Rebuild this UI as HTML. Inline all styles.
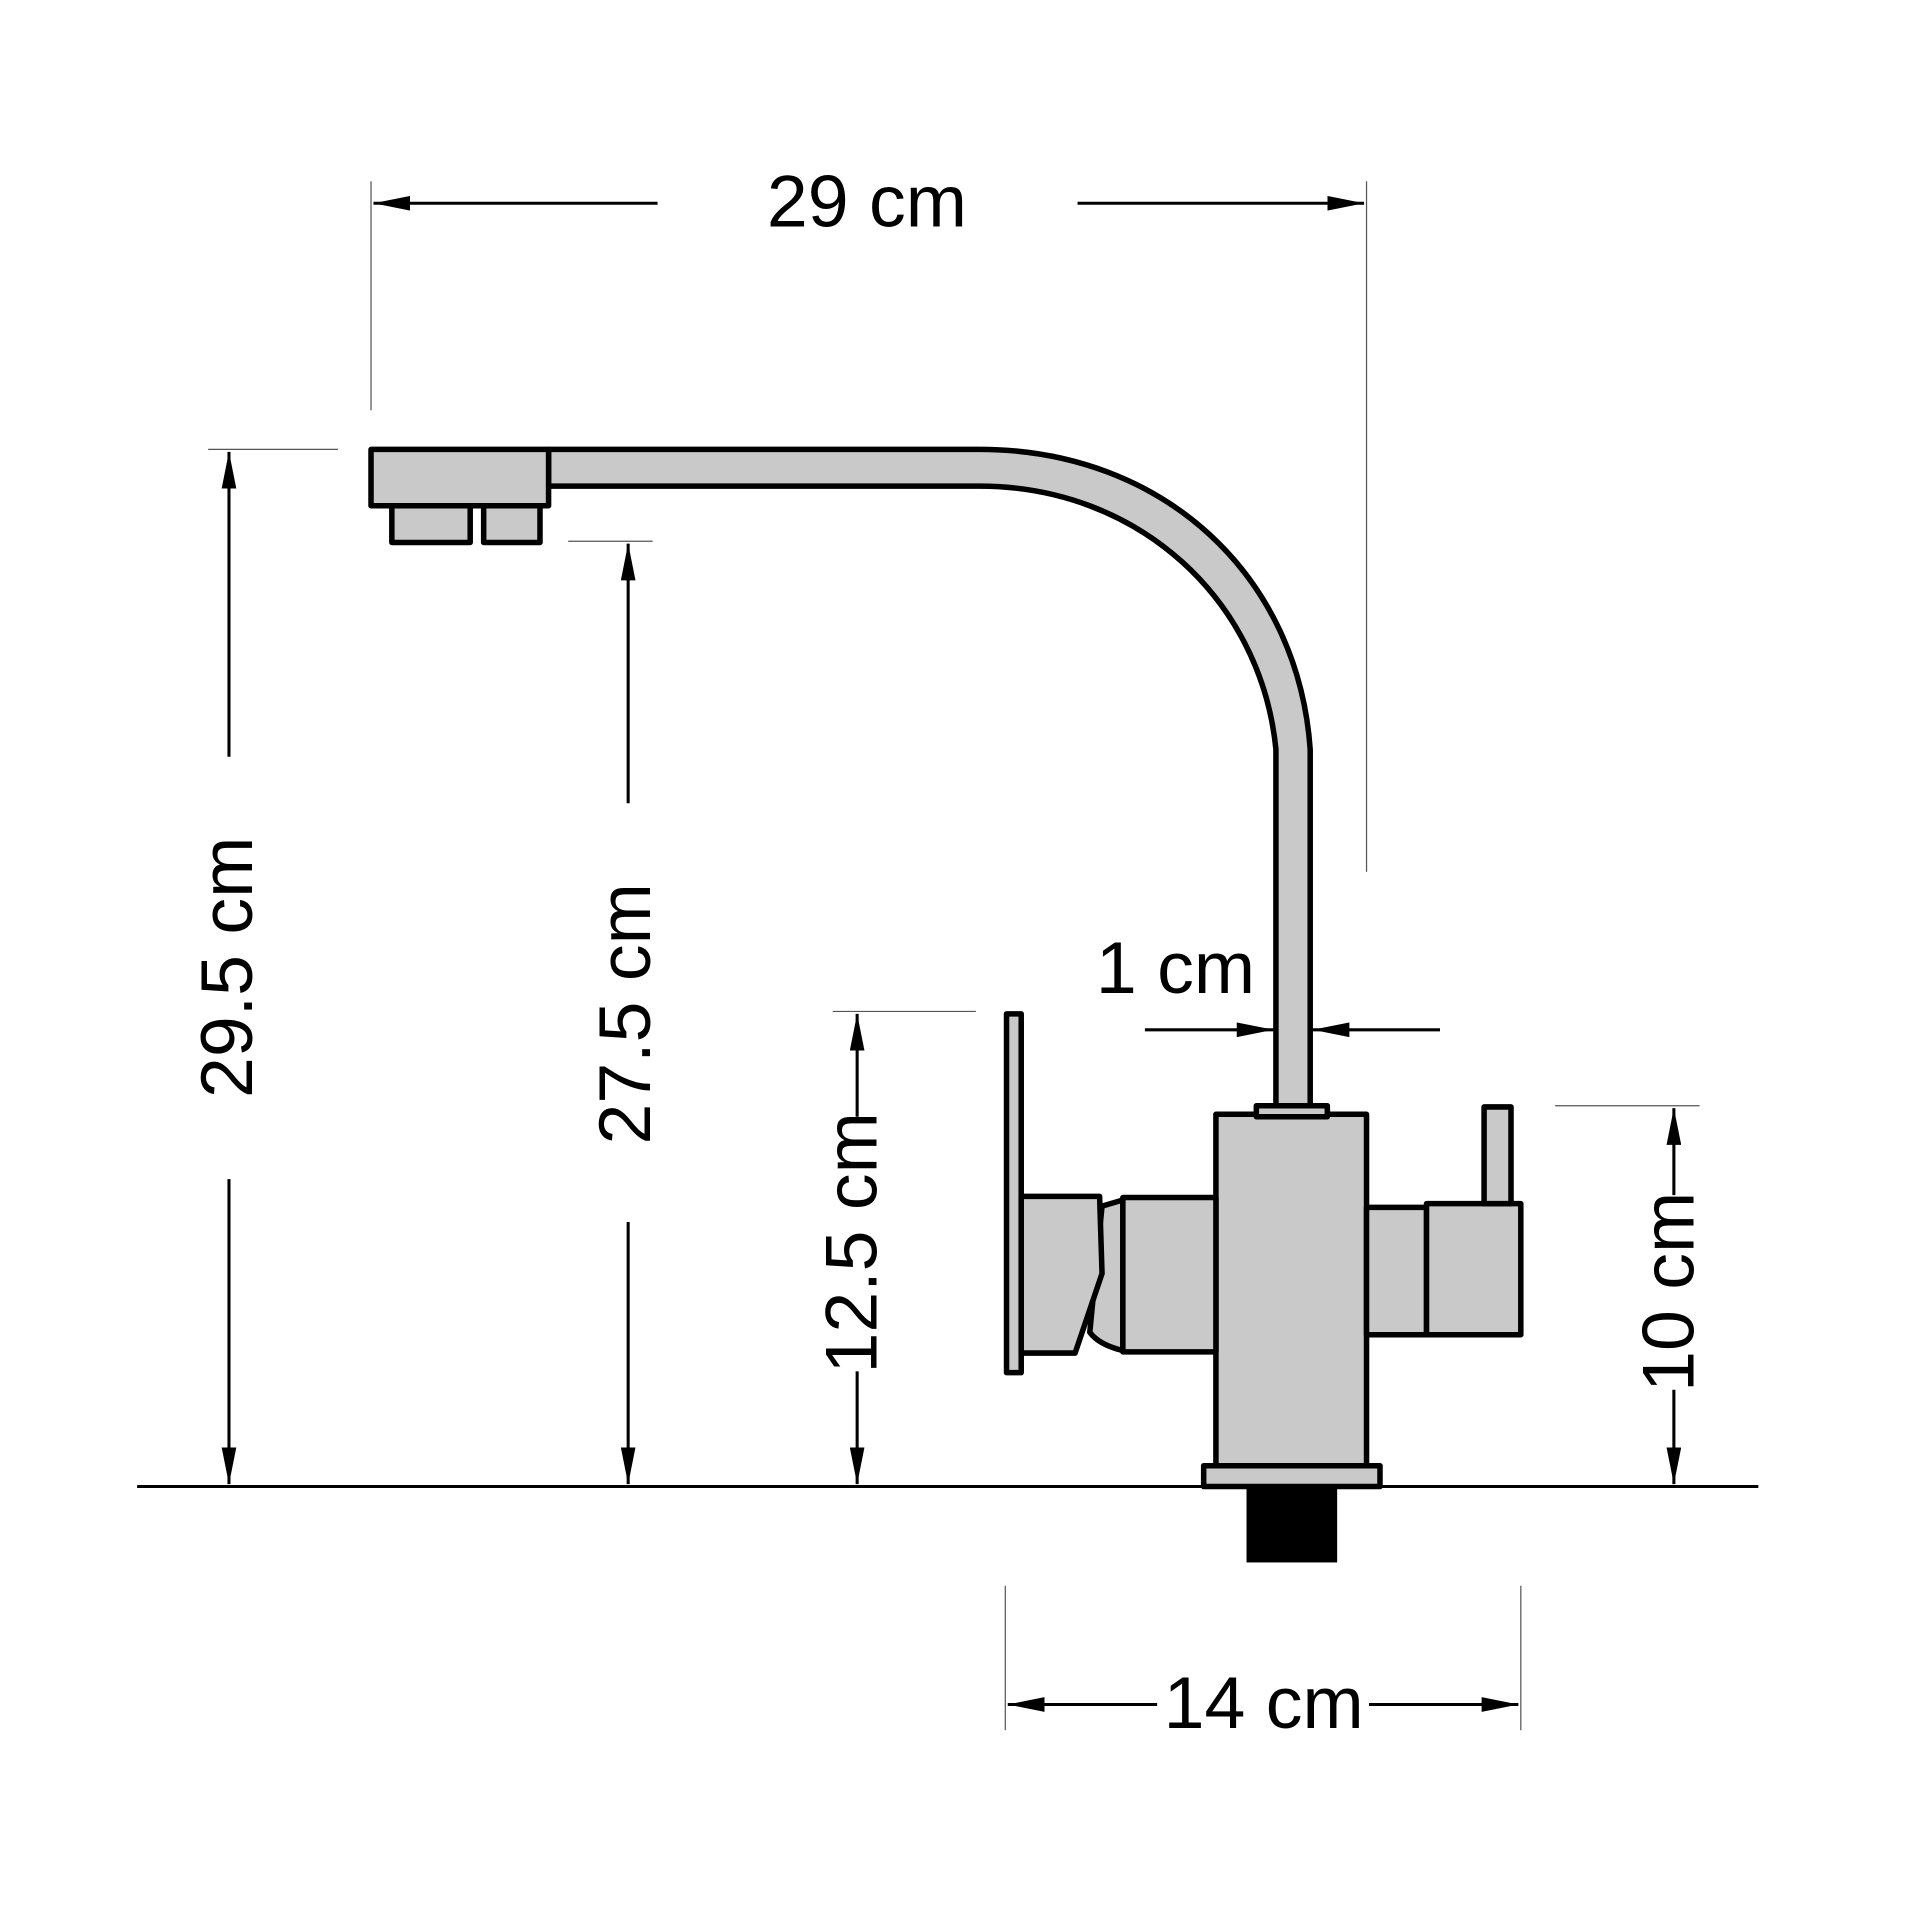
<!DOCTYPE html>
<html><head><meta charset="utf-8"><style>html,body{margin:0;padding:0;background:#fff}svg{display:block}</style></head>
<body>
<svg width="1920" height="1920" viewBox="0 0 1568 1568" xmlns="http://www.w3.org/2000/svg">
<defs>
<marker id="a" viewBox="0 0 30 12" refX="30" refY="6" markerWidth="30" markerHeight="12" markerUnits="userSpaceOnUse" orient="auto"><path d="M0,0 L30,6 L0,12 z" fill="#000"/></marker>
</defs>
<g fill="#c9c9c9" stroke="#000" stroke-width="4.5" stroke-linejoin="round">
<path d="M448,367 L800,367 C950,367 1060,470 1070,612 L1070,905 L1042,905 L1042,612 C1030,490 930,397 800,397 L448,397 Z"/>
<rect x="303" y="367" width="145" height="46"/>
<rect x="320" y="413" width="64" height="30"/>
<rect x="395" y="413" width="46" height="30"/>
<rect x="993" y="910" width="123" height="287"/>
<rect x="1026" y="903" width="58" height="9"/>
<rect x="983" y="1197" width="144" height="17"/>
<rect x="822" y="828" width="12" height="293"/>
<path d="M900,985 L917,980 L917,1103 C905,1100 895,1095 890,1088 Z"/>
<path d="M834,977 L898,977 L900,1040 L878,1105 L834,1105 Z"/>
<rect x="917" y="978" width="76" height="126"/>
<rect x="1116" y="986" width="49" height="104"/>
<rect x="1165" y="983" width="77" height="107"/>
<rect x="1212" y="904" width="22" height="79"/>
</g>
<rect x="1018" y="1214" width="74" height="62" fill="#000"/>
<line x1="112" y1="1214" x2="1436" y2="1214" stroke="#000" stroke-width="2.5"/>
<g stroke="#555" stroke-width="1">
<line x1="303" y1="148" x2="303" y2="335"/>
<line x1="1116" y1="148" x2="1116" y2="712"/>
<line x1="170" y1="367" x2="276" y2="367"/>
<line x1="464" y1="442" x2="533" y2="442"/>
<line x1="680" y1="826" x2="797" y2="826"/>
<line x1="1270" y1="903" x2="1388" y2="903"/>
<line x1="821" y1="1295" x2="821" y2="1413"/>
<line x1="1242" y1="1295" x2="1242" y2="1413"/>
</g>
<g stroke="#000" stroke-width="2.5" fill="none" marker-end="url(#a)">
<line x1="537" y1="166" x2="305" y2="166"/>
<line x1="880" y1="166" x2="1114" y2="166"/>
<line x1="187" y1="618" x2="187" y2="369"/>
<line x1="187" y1="963" x2="187" y2="1212"/>
<line x1="513" y1="656" x2="513" y2="444"/>
<line x1="513" y1="998" x2="513" y2="1212"/>
<line x1="700" y1="912" x2="700" y2="828"/>
<line x1="700" y1="1120" x2="700" y2="1212"/>
<line x1="1367" y1="976" x2="1367" y2="905"/>
<line x1="1367" y1="1135" x2="1367" y2="1212"/>
<line x1="935" y1="841" x2="1040" y2="841"/>
<line x1="1176" y1="841" x2="1072" y2="841"/>
<line x1="945" y1="1392" x2="823" y2="1392"/>
<line x1="1118" y1="1392" x2="1240" y2="1392"/>
</g>
<g font-family="Liberation Sans, sans-serif" font-size="60" fill="#000" text-anchor="middle">
<text x="708" y="185">29 cm</text>
<text x="960" y="811">1 cm</text>
<text x="1032" y="1411">14 cm</text>
<text transform="translate(206,790) rotate(-90)">29.5 cm</text>
<text transform="translate(531,828) rotate(-90)">27.5 cm</text>
<text transform="translate(716,1015) rotate(-90)">12.5 cm</text>
<text transform="translate(1383,1055) rotate(-90)">10 cm</text>
</g>
</svg>
</body></html>
